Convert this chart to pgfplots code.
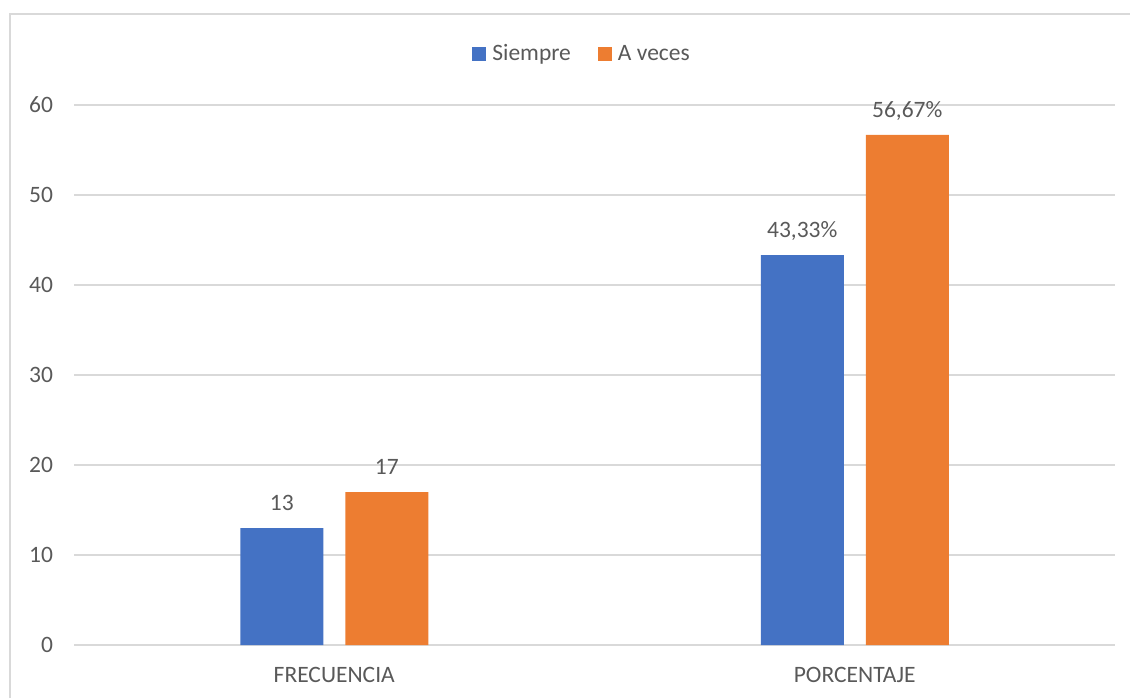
\documentclass[border=0pt]{standalone}
\usepackage{fontspec}
\setmainfont{Carlito}
\usepackage{pgfplots}
\pgfplotsset{compat=1.18}
\definecolor{sblue}{HTML}{4472C4}
\definecolor{sorange}{HTML}{ED7D31}
\definecolor{gridc}{HTML}{D9D9D9}
\definecolor{txt}{HTML}{595959}
\begin{document}
\begin{tikzpicture}
\path[use as bounding box] (0,0) rectangle (565pt,349pt);
\draw[gridc, line width=0.8pt] (5pt,0) -- (5pt,342pt) -- (565pt,342pt);
\begin{axis}[
  at={(37pt,26.5pt)}, anchor=south west,
  scale only axis, width=520.5pt, height=270pt,
  ybar, bar width=41.5pt,
  xmin=-0.5, xmax=1.5, ymin=0, ymax=60,
  xtick={0,1}, xticklabels={FRECUENCIA,PORCENTAJE},
  ytick={0,10,...,60},
  ymajorgrids, grid style={gridc, line width=0.75pt},
  axis line style={draw=none}, major tick length=0pt,
  font=\fontsize{11.75}{14}\selectfont,
  tick label style={text=txt},
  /pgf/number format/assume math mode=true,
  yticklabel style={xshift=-7pt},
  xticklabel style={yshift=-7.6pt},
  point meta=explicit symbolic,
  nodes near coords,
  every node near coord/.append style={text=txt, anchor=base, yshift=8.75pt},
  legend columns=2,
  legend style={draw=none, fill=none, at={(0.489,1.094)}, anchor=center, text=txt,
    /tikz/every even column/.append style={column sep=11.5pt}},
  legend image code/.code={\fill[#1] (0pt,-3.5pt) rectangle (7pt,3.5pt);},
  legend cell align=left,
  clip=false,
]
\addplot[fill=sblue, draw=none, bar shift=-26.25pt] coordinates {(0,13) [13] (1,43.33) [43,33\%]};
\addplot[fill=sorange, draw=none, bar shift=26.25pt] coordinates {(0,17) [17] (1,56.67) [56,67\%]};
\legend{\hspace{1pt}Siempre, \hspace{1pt}A veces}
\end{axis}
\end{tikzpicture}
\end{document}
